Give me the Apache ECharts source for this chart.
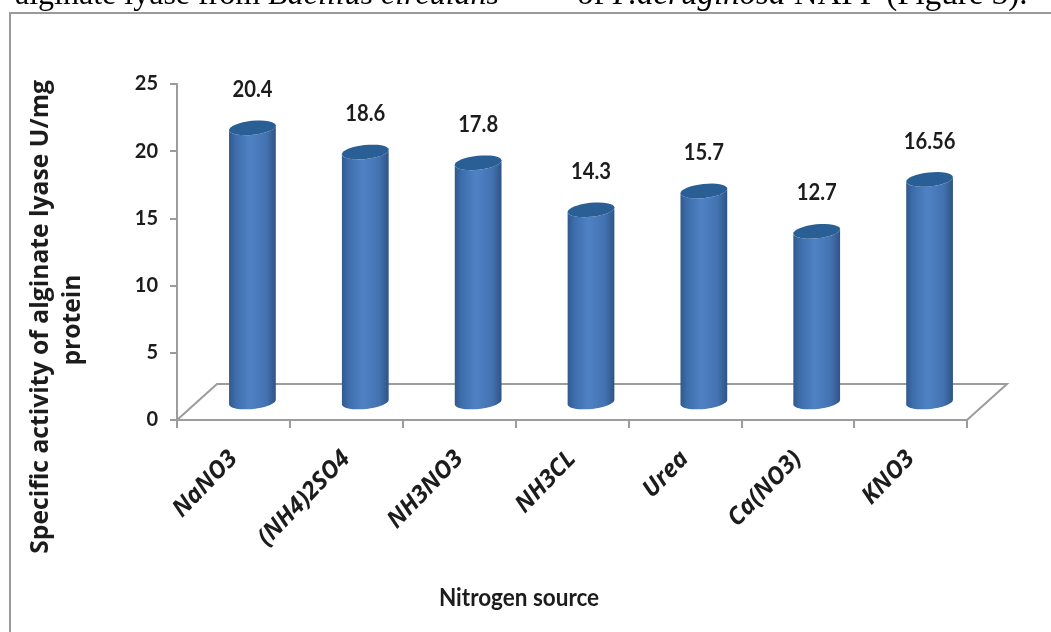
<!DOCTYPE html>
<html>
<head>
<meta charset="utf-8">
<style>html,body{margin:0;padding:0;background:#fff}#chart{width:1051px;height:632px}</style>
<script src="https://cdn.jsdelivr.net/npm/echarts@6/dist/echarts.min.js"></script>
</head>
<body>
<div id="chart"></div>
<script>
// Specific activity of alginate lyase for each nitrogen source
const categories = ['NaNO3', '(NH4)2SO4', 'NH3NO3', 'NH3CL', 'Urea', 'Ca(NO3)', 'KNO3'];
const activity = [20.4, 18.6, 17.8, 14.3, 15.7, 12.7, 16.56];
const yTicks = { min: 0, max: 25, interval: 5 };

const LABEL_FONT = 'Lato, "Open Sans", sans-serif';
const WIDE_FONT = '"Open Sans", sans-serif';
const AXIS_GREY = '#9c9c9c';
const INK = '#1c1c1c';

// Oblique depth of the 3-D floor, and how far bars stand back on it
const FLOOR_DX = 40, FLOOR_DY = 36;
const BAR_DX = 19, BAR_DY = 18;
const BAR_RX = 23.5, BAR_RY = 7, BAR_TILT = -6 * Math.PI / 180;

function ellipsePoint(cx, cy, t) {
  const c = Math.cos(t), s = Math.sin(t);
  return [
    cx + BAR_RX * c * Math.cos(BAR_TILT) - BAR_RY * s * Math.sin(BAR_TILT),
    cy + BAR_RX * c * Math.sin(BAR_TILT) + BAR_RY * s * Math.cos(BAR_TILT)
  ];
}

function arc(cx, cy, from, to) {
  const pts = [];
  for (let i = 0; i <= 32; i++) pts.push(ellipsePoint(cx, cy, from + (to - from) * i / 32));
  return pts;
}

function renderCylinder(params, api) {
  const base = api.coord([api.value(0), 0]);
  const top = api.coord([api.value(0), api.value(1)]);
  const cx = base[0] + BAR_DX;
  const yBase = base[1] - BAR_DY;
  const yTop = top[1] - BAR_DY;
  // Side wall: the top rim's back half is hidden under the cap drawn after it
  const body = arc(cx, yTop, Math.PI, 0).concat(arc(cx, yBase, 0, Math.PI));
  const cap = arc(cx, yTop, 0, 2 * Math.PI);
  return {
    type: 'group',
    children: [
      {
        type: 'polygon',
        shape: { points: body },
        style: {
          fill: {
            type: 'linear', x: 0, y: 0, x2: 1, y2: 0,
            colorStops: [
              { offset: 0, color: '#31598d' },
              { offset: 0.14, color: '#3d6dab' },
              { offset: 0.45, color: '#4f82c5' },
              { offset: 0.8, color: '#4372b0' },
              { offset: 1, color: '#2f5486' }
            ]
          }
        }
      },
      { type: 'polygon', shape: { points: cap }, style: { fill: '#2a5f95' } },
      {
        type: 'text',
        x: cx, y: top[1] - 56, scaleX: 0.92,
        style: {
          text: String(api.value(1)),
          font: 'bold 22px ' + LABEL_FONT,
          fill: INK, textAlign: 'center', textVerticalAlign: 'middle'
        }
      }
    ]
  };
}

function renderFloor(params) {
  const g = params.coordSys;
  const left = g.x, right = g.x + g.width, front = g.y + g.height;
  return {
    type: 'polyline',
    shape: {
      points: [
        [left, front],
        [left + FLOOR_DX, front - FLOOR_DY],
        [right + FLOOR_DX, front - FLOOR_DY],
        [right, front]
      ]
    },
    style: { fill: null, stroke: AXIS_GREY, lineWidth: 2 }
  };
}

const SERIF = '"Liberation Serif", serif';

const chart = echarts.init(document.getElementById('chart'));
chart.setOption({
  animation: false,
  backgroundColor: '#ffffff',
  grid: { left: 177, right: 84, top: 84, bottom: 212 },
  xAxis: {
    type: 'category',
    data: categories,
    axisLine: { lineStyle: { color: AXIS_GREY, width: 2 } },
    axisTick: { show: true, alignWithLabel: false, length: 8, lineStyle: { color: AXIS_GREY, width: 2 } },
    axisLabel: {
      rotate: 46, margin: 35, interval: 0,
      fontStyle: 'italic', fontWeight: 'bold', fontSize: 24,
      fontFamily: WIDE_FONT, color: INK
    }
  },
  yAxis: {
    type: 'value',
    min: yTicks.min, max: yTicks.max, interval: yTicks.interval,
    splitLine: { show: false },
    axisLine: { show: true, lineStyle: { color: AXIS_GREY, width: 2 } },
    axisTick: { show: true, length: 7, lineStyle: { color: AXIS_GREY, width: 2 } },
    axisLabel: { margin: 19, fontWeight: 'bold', fontSize: 20, fontFamily: LABEL_FONT, color: INK }
  },
  series: [
    { type: 'custom', data: [0], renderItem: renderFloor, silent: true, clip: false, z: 1 },
    {
      type: 'custom',
      data: activity.map((v, i) => [i, v]),
      encode: { x: 0, y: 1 },
      renderItem: renderCylinder,
      clip: false,
      z: 2
    }
  ],
  graphic: [
    {
      type: 'rect', silent: true, z: 0,
      shape: { x: 10, y: 13, width: 1200, height: 800 },
      style: { fill: null, stroke: '#9a9a9a', lineWidth: 2 }
    },
    {
      type: 'text', silent: true,
      style: {
        x: 15, y: 12,
        text: '{r|alginate lyase from }{i|Bacillus circulans}',
        textVerticalAlign: 'bottom',
        rich: {
          r: { font: '32px ' + SERIF, fill: '#000' },
          i: { font: 'italic 32px ' + SERIF, fill: '#000' }
        }
      }
    },
    {
      type: 'text', silent: true,
      style: {
        x: 577, y: 12,
        text: '{r|of }{i|P.aeruginosa}{r| NAPP (Figure 3).}',
        textVerticalAlign: 'bottom',
        rich: {
          r: { font: '33px ' + SERIF, fill: '#000' },
          i: { font: 'italic 33px ' + SERIF, fill: '#000' }
        }
      }
    },
    {
      type: 'text', silent: true, x: 41, y: 317, rotation: Math.PI / 2,
      style: {
        text: 'Specific activity of alginate lyase U/mg',
        font: 'bold 24.7px ' + WIDE_FONT, fill: INK,
        textAlign: 'center', textVerticalAlign: 'middle'
      }
    },
    {
      type: 'text', silent: true, x: 73, y: 320, rotation: Math.PI / 2,
      style: {
        text: 'protein',
        font: 'bold 24.7px ' + WIDE_FONT, fill: INK,
        textAlign: 'center', textVerticalAlign: 'middle'
      }
    },
    {
      type: 'text', silent: true, x: 519, y: 598, scaleX: 0.9,
      style: {
        text: 'Nitrogen source',
        font: 'bold 25px ' + LABEL_FONT, fill: INK,
        textAlign: 'center', textVerticalAlign: 'middle'
      }
    }
  ]
});
</script>
</body>
</html>
